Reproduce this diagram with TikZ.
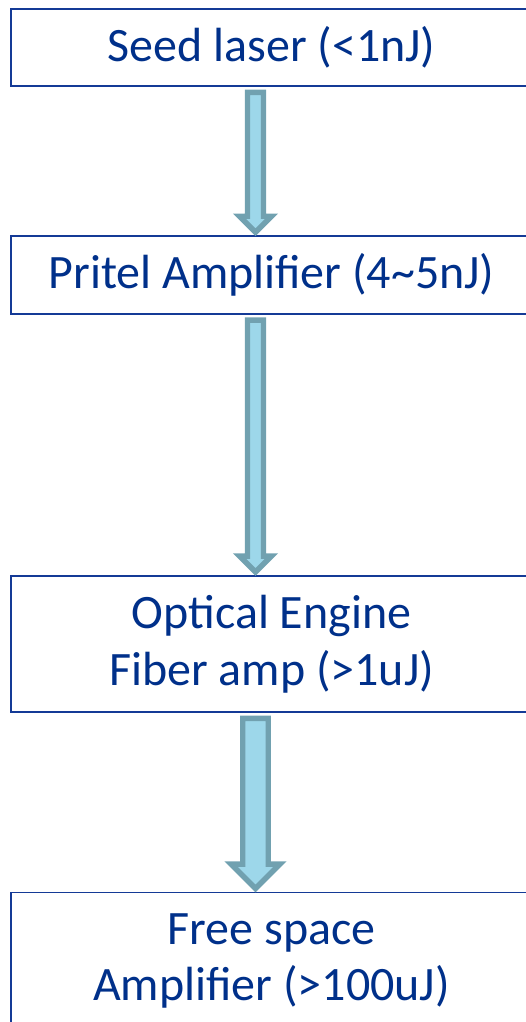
\documentclass[tikz,border=0pt]{standalone}
\usepackage{fontspec}
\setmainfont{Carlito}
\usetikzlibrary{calc}

\definecolor{stagetext}{RGB}{0,48,138}
\definecolor{stageline}{RGB}{20,58,150}
\definecolor{arrowfill}{RGB}{157,215,234}
\definecolor{arrowline}{RGB}{113,161,176}

\begin{document}
\begin{tikzpicture}[
  stage/.style={draw=stageline,line width=1.1pt,text=stagetext,align=center,
    minimum width=10.42cm,inner sep=0pt,font=\fontsize{27.3}{32.4}\selectfont},
  flowarrow/.style={draw=arrowline,fill=arrowfill,line width=3.1pt,line join=miter}]
\useasboundingbox (0,0) rectangle (10.5,20.44);
\node[stage,minimum height=1.54cm] (seed) at (5.43,19.49) {Seed laser (<1nJ)};
\node[stage,minimum height=1.55cm] (pritel) at (5.43,14.94) {Pritel Amplifier (4\textasciitilde5nJ)};
\node[stage,minimum height=2.72cm] (engine) at (5.43,7.56) {Optical Engine\\Fiber amp (>1uJ)};
\node[stage,minimum height=2.74cm] (freespace) at (5.43,1.22) {Free space\\Amplifier (>100uJ)};
% block arrows between the stages
\foreach \a/\b/\sw/\hw in {seed/pritel/0.16/0.32, pritel/engine/0.16/0.32, engine/freespace/0.255/0.49}
  \draw[flowarrow] let \p1=($(\a.south)+(-0.32,-0.11)$), \p2=($(\b.north)+(0,0.06)$) in
    (\x1-\sw cm,\y1) -- (\x1+\sw cm,\y1) -- (\x1+\sw cm,\y2+\hw cm) -- (\x1+\hw cm,\y2+\hw cm)
    -- (\x1,\y2) -- (\x1-\hw cm,\y2+\hw cm) -- (\x1-\sw cm,\y2+\hw cm) -- cycle;
\end{tikzpicture}
\end{document}
